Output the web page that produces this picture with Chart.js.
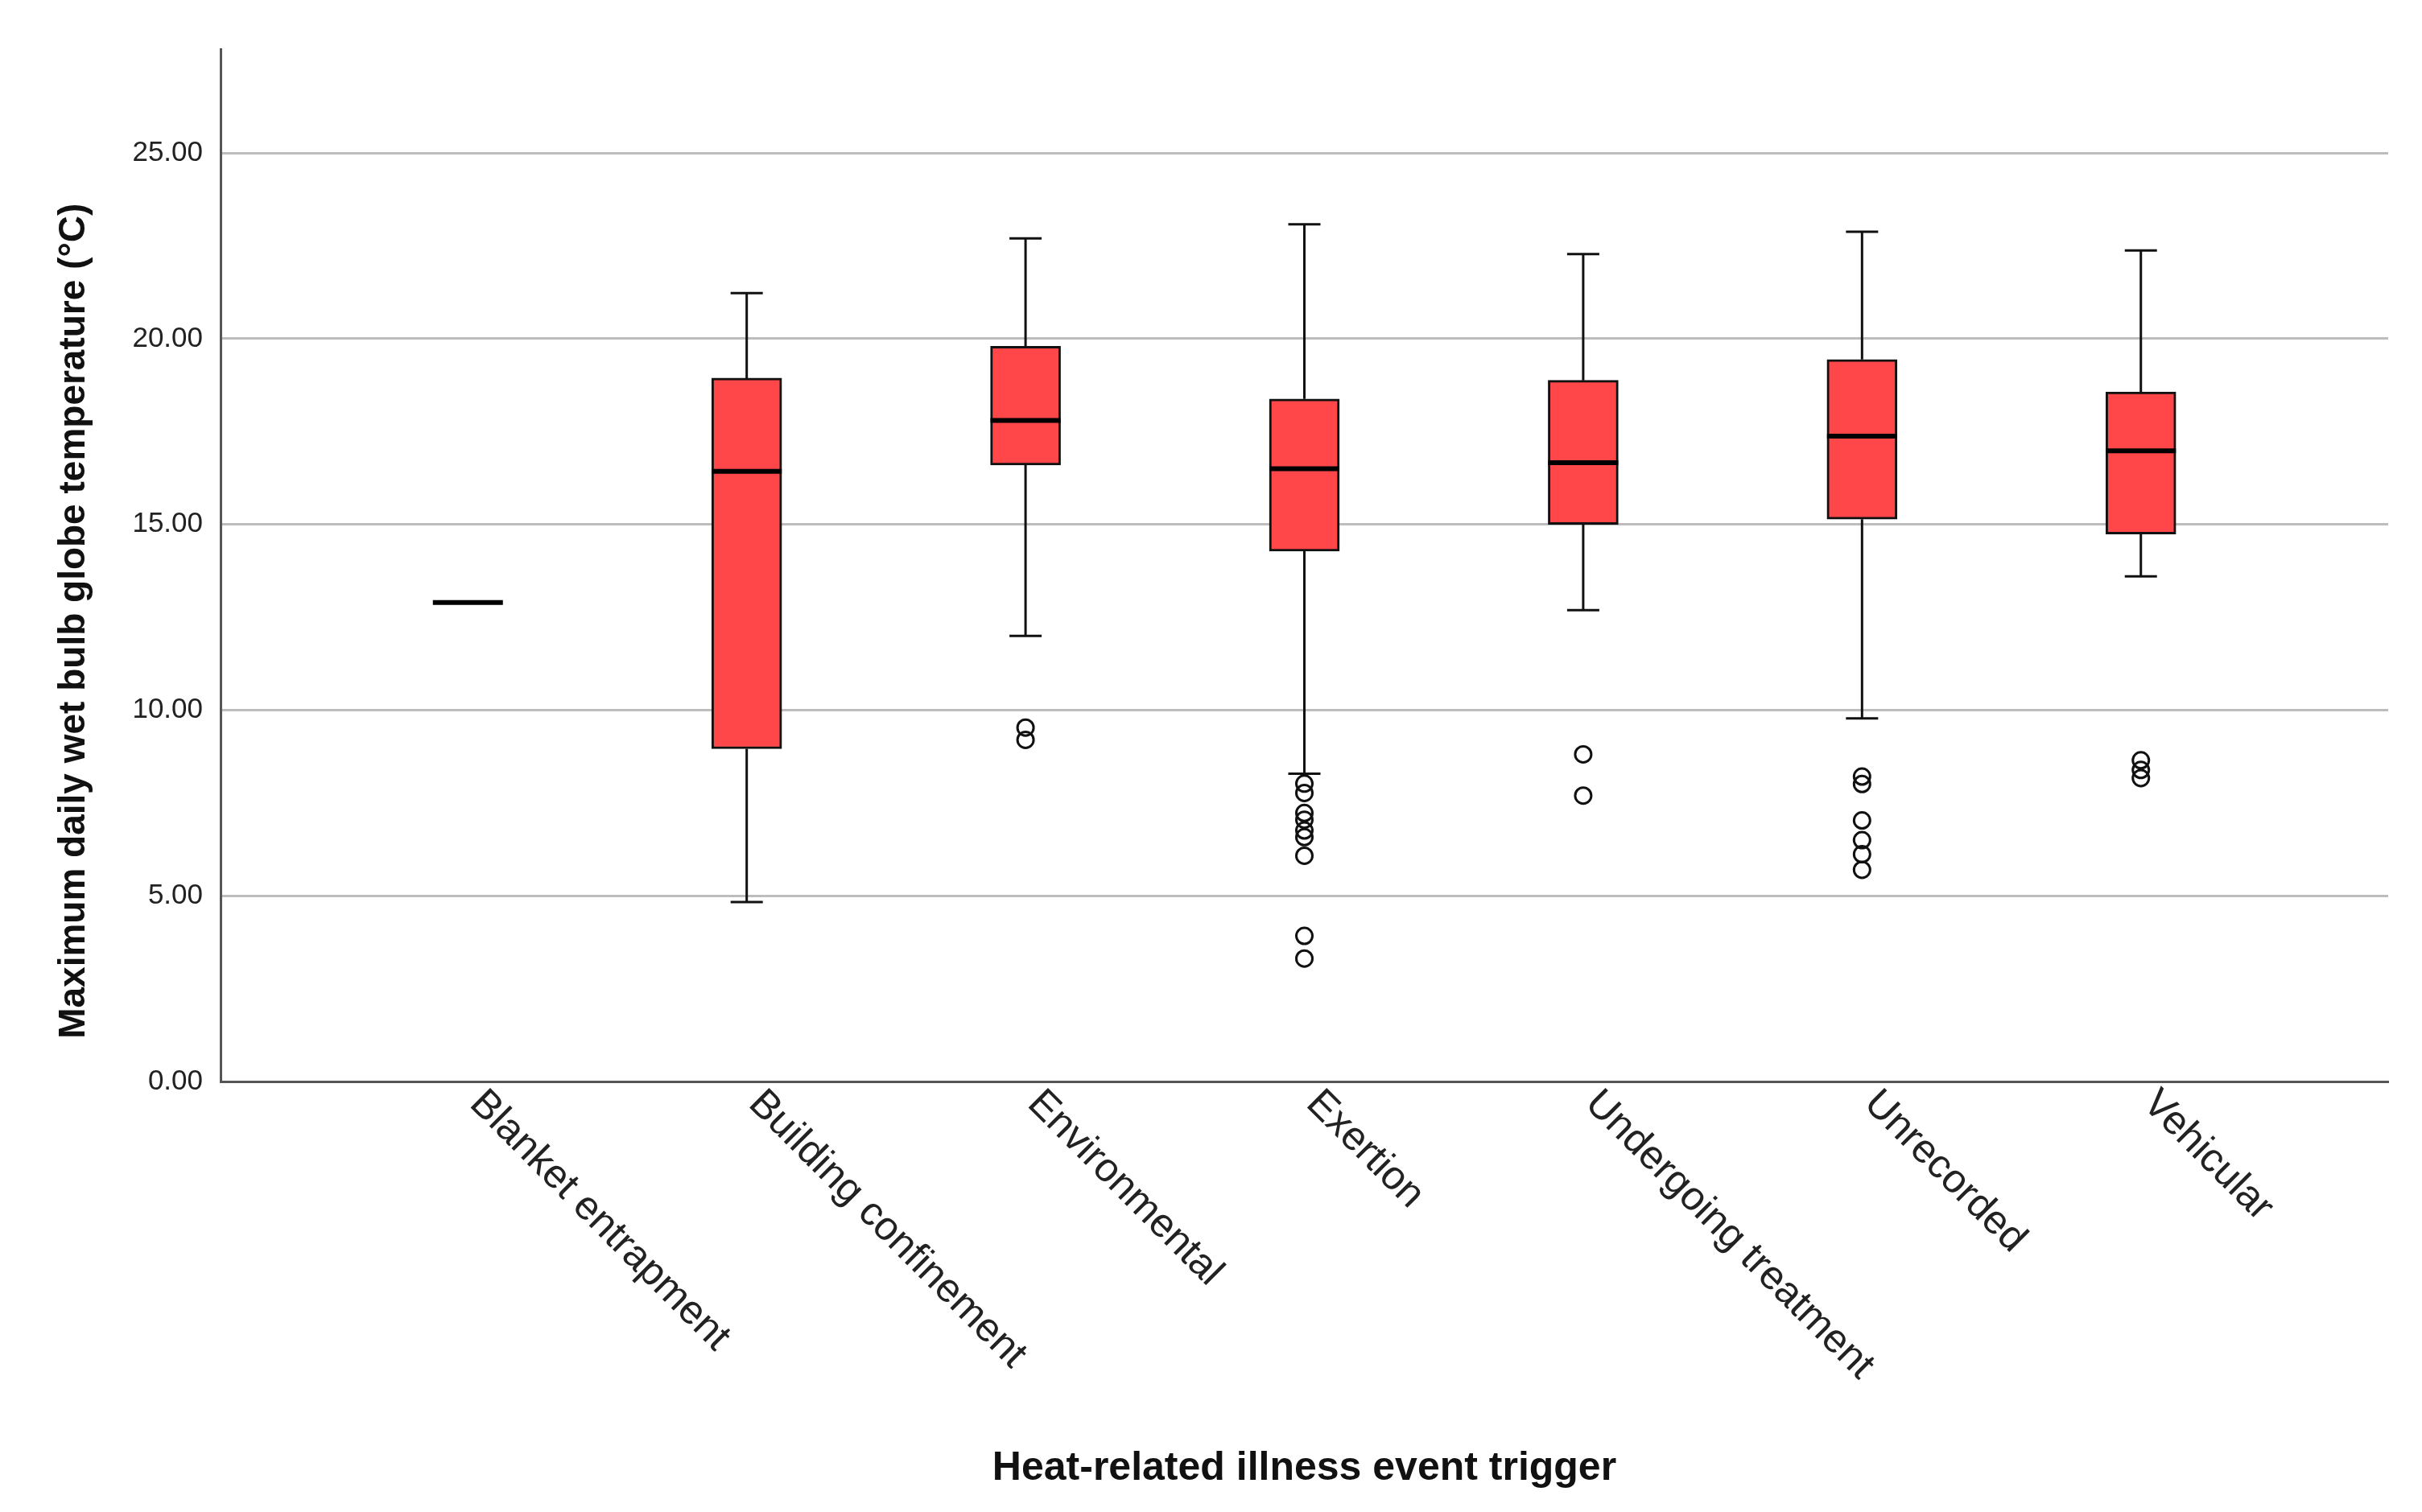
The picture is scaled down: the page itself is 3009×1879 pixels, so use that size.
<!DOCTYPE html>
<html>
<head>
<meta charset="utf-8">
<script src="https://cdn.jsdelivr.net/npm/chart.js@4.4.0/dist/chart.umd.min.js"></script>
<style>
  html, body { margin: 0; padding: 0; background: #fff; }
  #holder { width: 3009px; height: 1879px; }
</style>
</head>
<body>
<div id="holder"><canvas id="boxChart" width="3009" height="1879"></canvas></div>
<script>
// values
const categories = ['Blanket entrapment', 'Building confinement', 'Environmental', 'Exertion',
                    'Undergoing treatment', 'Unrecorded', 'Vehicular'];
const whiskerLow  = [12.9, 4.83, 12.0, 8.29, 12.69, 9.78, 13.6];
const q1          = [12.9, 8.96, 16.6, 14.28, 15.0, 15.14, 14.74];
const median      = [12.9, 16.43, 17.8, 16.5, 16.66, 17.38, 16.98];
const q3          = [12.9, 18.94, 19.8, 18.38, 18.88, 19.44, 18.57];
const whiskerHigh = [12.9, 21.23, 22.7, 23.08, 22.28, 22.88, 22.38];
const outliers = [
    [],
    [],
    [9.53, 9.2],
    [8.02, 7.77, 7.23, 7.05, 6.76, 6.58, 6.08, 3.92, 3.31],
    [8.81, 7.7],
    [8.21, 8.01, 7.03, 6.5, 6.12, 5.7],
    [8.65, 8.39, 8.17]
];
const yTicks = [0, 5, 10, 15, 20, 25];
const yTitle = 'Maximum daily wet bulb globe temperature (\u00B0C)';
const xTitle = 'Heat-related illness event trigger';

const boxData = categories.map((c, i) => ({ x: i, y: [q1[i], q3[i]] }));
const outlierData = [];
outliers.forEach((list, i) => list.forEach(v => outlierData.push({ x: i, y: v })));

const FONT = "'Liberation Sans', Arial, sans-serif";

const boxExtras = {
    id: 'boxExtras',
    beforeDatasetsDraw(chart) {
        const ctx = chart.ctx, xs = chart.scales.x, ys = chart.scales.y;
        ctx.save();
        ctx.strokeStyle = '#111';
        ctx.lineWidth = 3;
        categories.forEach((c, i) => {
            if (whiskerHigh[i] === whiskerLow[i]) return;
            const px = xs.getPixelForValue(i);
            [[q3[i], whiskerHigh[i]], [q1[i], whiskerLow[i]]].forEach(([a, b]) => {
                const ya = ys.getPixelForValue(a), yb = ys.getPixelForValue(b);
                ctx.beginPath();
                ctx.moveTo(px, ya); ctx.lineTo(px, yb);
                ctx.moveTo(px - 20, yb); ctx.lineTo(px + 20, yb);
                ctx.stroke();
            });
        });
        ctx.restore();
    },
    afterDatasetsDraw(chart) {
        const ctx = chart.ctx, xs = chart.scales.x, ys = chart.scales.y;
        const bars = chart.getDatasetMeta(0).data;
        ctx.save();
        ctx.strokeStyle = '#000';
        ctx.lineWidth = 6;
        median.forEach((m, i) => {
            const px = xs.getPixelForValue(i), half = bars[i].width / 2;
            const py = ys.getPixelForValue(m);
            ctx.beginPath();
            ctx.moveTo(px - half, py); ctx.lineTo(px + half, py);
            ctx.stroke();
        });
        ctx.restore();
    },
    afterDraw(chart) {
        const ctx = chart.ctx, xs = chart.scales.x, ys = chart.scales.y;
        const area = chart.chartArea;
        ctx.save();
        // x labels slanted downwards to the right, starting at each tick
        ctx.font = '50px ' + FONT;
        ctx.fillStyle = '#222';
        ctx.textAlign = 'left';
        ctx.textBaseline = 'top';
        categories.forEach((c, i) => {
            const px = xs.getPixelForValue(i);
            ctx.save();
            ctx.translate(px + 28, area.bottom + 2);
            ctx.rotate(Math.PI / 4);
            ctx.fillText(c, 0, 0);
            ctx.restore();
        });
        // y title sits a little below the middle of the axis, as in the original
        ctx.font = 'bold 46px ' + FONT;
        ctx.fillStyle = '#111';
        ctx.textAlign = 'center';
        ctx.textBaseline = 'middle';
        ctx.translate(92, ys.getPixelForValue(12.4));
        ctx.rotate(-Math.PI / 2);
        ctx.fillText(yTitle, 0, 0);
        ctx.restore();
    }
};

new Chart(document.getElementById('boxChart'), {
    type: 'bar',
    data: {
        datasets: [{
            type: 'bar',
            data: boxData,
            backgroundColor: '#ff474a',
            borderColor: '#111',
            borderWidth: 3,
            borderSkipped: false,
            barThickness: 87,
            grouped: false,
            order: 2
        }, {
            type: 'scatter',
            data: outlierData,
            pointStyle: 'circle',
            pointRadius: 10,
            borderColor: '#111',
            borderWidth: 3,
            backgroundColor: 'rgba(0,0,0,0)',
            order: 1
        }]
    },
    options: {
        responsive: false,
        devicePixelRatio: 1,
        animation: false,
        layout: { padding: { top: 61, right: 42, left: 0, bottom: 0 } },
        plugins: { legend: { display: false }, tooltip: { enabled: false } },
        scales: {
            x: {
                type: 'linear',
                offset: false,
                min: -0.887,
                max: categories.length - 1 + 0.887,
                ticks: { display: false },
                grid: { display: false, offset: false },
                border: { color: '#555', width: 3 },
                title: {
                    display: true, text: xTitle, color: '#111',
                    font: { family: FONT, size: 50, weight: 'bold' },
                    padding: { top: 0, bottom: 24 }
                },
                afterFit(scale) { scale.height = 535; }
            },
            y: {
                min: 0,
                max: 27.8,
                afterBuildTicks(scale) { scale.ticks = yTicks.map(v => ({ value: v })); },
                ticks: {
                    padding: 22, color: '#222',
                    font: { family: FONT, size: 35 },
                    callback: v => Number(v).toFixed(2)
                },
                grid: { color: '#bdbdbd', lineWidth: 3, drawTicks: false },
                border: { color: '#555', width: 3 },
                afterFit(scale) { scale.width = 274; }
            }
        }
    },
    plugins: [boxExtras]
});
</script>
</body>
</html>
